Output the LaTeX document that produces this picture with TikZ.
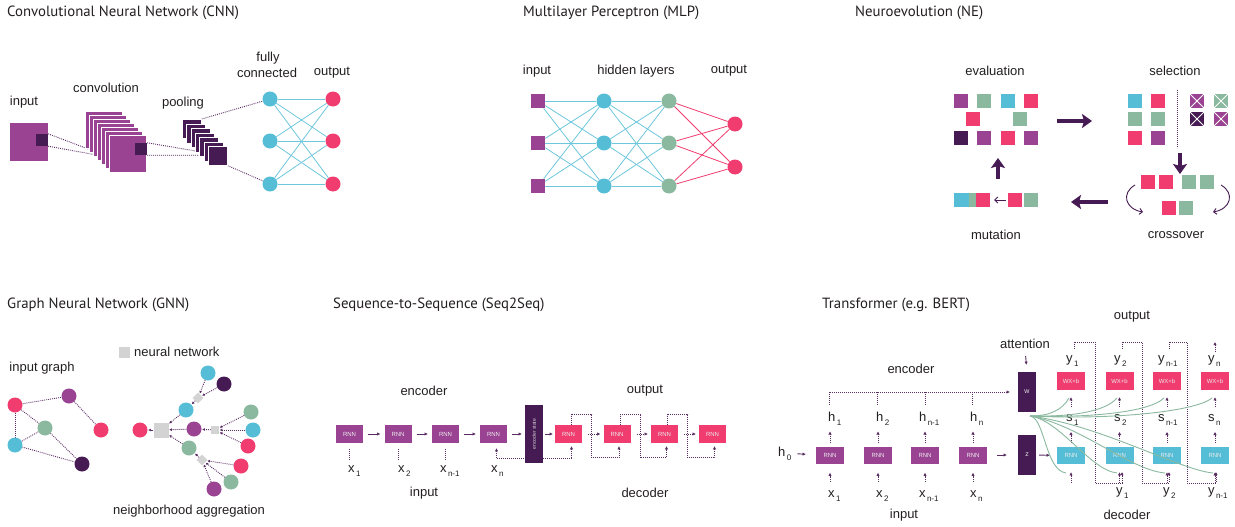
\documentclass[tikz,border=0pt]{standalone}
\usepackage{fontspec}
\setmainfont{Liberation Sans}
\newfontfamily\ttlfont{PT Sans}
\usetikzlibrary{arrows.meta,calc}
\definecolor{cpur}{HTML}{9B4393}
\definecolor{cdrk}{HTML}{461A53}
\definecolor{cpnk}{HTML}{F03C6E}
\definecolor{ccyn}{HTML}{55BDD6}
\definecolor{cgrn}{HTML}{8BB9A0}
\definecolor{cgry}{HTML}{D3D3D3}
\definecolor{cline}{HTML}{5A2D63}
\definecolor{ctxt}{HTML}{231F20}
\pgfdeclarelayer{bg}\pgfsetlayers{bg,main}
\newcommand{\sbs}[1]{\raisebox{-4pt}{\fontsize{8}{8}\selectfont\,#1}}
\begin{document}
\begin{tikzpicture}[x=1pt,y=-1pt,
  >={Latex[length=3.2pt,width=3.4pt]},
  ttl/.style={font=\ttlfont\fontsize{14.8}{16}\selectfont, anchor=west, text=ctxt, inner sep=0pt},
  lbl/.style={font=\fontsize{13}{15}\selectfont, text=ctxt, inner sep=0pt},
  sub/.style={lbl, anchor=base west},
  cnode/.style={circle, minimum size=15pt, inner sep=0pt},
  nsq/.style={rectangle, minimum size=14pt, inner sep=0pt},
  rbox/.style={rectangle, minimum width=28pt, minimum height=17pt, inner sep=0pt, font=\fontsize{6}{6}\selectfont, text=white!85!gray},
  dl/.style={draw=cline, line width=0.9pt, dash pattern=on 0.9pt off 1.1pt},
  sl/.style={draw=cline, line width=0.9pt},
  thk/.style={draw=cdrk, line width=3.6pt, -{Stealth[length=10pt,width=14pt,inset=2pt]}},
  barb/.style={draw=cdrk, line width=0.9pt, -{Straight Barb[length=3pt,width=6pt]}},
  cedge/.style={draw=ccyn!85, line width=0.8pt},
  pedge/.style={draw=cpnk, line width=0.8pt},
  gcurve/.style={draw=cgrn, line width=0.9pt},
  sarr/.style={dl, -{Latex[length=2.6pt,width=2.8pt]}},
  xsq/.style={nsq, path picture={\draw[white, line width=0.8pt] (path picture bounding box.north west) -- (path picture bounding box.south east) (path picture bounding box.south west) -- (path picture bounding box.north east);}},
]
\useasboundingbox (0,0) rectangle (1235,527);
\begin{pgfonlayer}{bg}
\fill[white] (0,0) rectangle (1235,527);
\end{pgfonlayer}

% ---------------- titles
\node[ttl] (t-cnn) at (7,13) {Convolutional Neural Network (CNN)};
\node[ttl] (t-mlp) at (523,13) {Multilayer Perceptron (MLP)};
\node[ttl] (t-ne) at (855,13) {Neuroevolution (NE)};
\node[ttl] (t-gnn) at (7,305) {Graph Neural Network (GNN)};
\node[ttl] (t-s2s) at (333,305) {Sequence-to-Sequence (Seq2Seq)};
\node[ttl] (t-tr) at (822,305) {Transformer (e.g. BERT)};

% ---------------- CNN
\node[lbl] (c-inlbl) at (24,102) {input};
\node[lbl] (c-cvlbl) at (106,88) {convolution};
\node[lbl] (c-pllbl) at (183,103) {pooling};
\node[lbl] (c-fclbl1) at (268,58) {fully};
\node[lbl] (c-fclbl2) at (267,73) {connected};
\node[lbl] (c-outlbl) at (332,73) {output};
\node[nsq, fill=cpur, minimum size=38pt] (c-in) at (29,142) {};
\node[nsq, fill=cdrk, minimum size=12pt] (c-ink) at (42,140) {};
\foreach \k in {0,...,6}
  \node[nsq, fill=cpur, draw=white, line width=0.7pt, minimum size=37pt, anchor=north west] (c-cv\k) at (85+4*\k,111+4*\k) {};
\node[nsq, fill=cdrk, minimum size=12pt] (c-cvk) at (141,149) {};
\foreach \k in {0,...,6}
  \node[nsq, fill=cdrk, draw=white, line width=0.7pt, minimum size=19pt, anchor=north west] (c-pl\k) at (182+4.33*\k,119+4.5*\k) {};
\foreach \i/\y in {1/99,2/141,3/184} {
  \node[cnode, fill=ccyn] (c-fc\i) at (270,\y) {};
  \node[cnode, fill=cpnk] (c-out\i) at (333,\y) {};
}
\coordinate (c-e1) at (100,153.5);
\coordinate (c-e2) at (105,156.5);
\coordinate (c-e3) at (205,152.6);
\coordinate (c-e4) at (208,155.3);
\begin{pgfonlayer}{bg}
\draw[dl] (c-ink.north east) -- (c-e1);
\draw[dl] (c-ink.south east) -- (c-e2);
\draw[dl] (c-cvk.north east) -- (c-e3);
\draw[dl] (c-cvk.south east) -- (c-e4);
\draw[dl] (c-pl0.north east) -- (c-fc1);
\draw[dl] (c-pl6.south east) -- (c-fc3);
\foreach \i in {1,2,3} \foreach \j in {1,2,3} \draw[cedge] (c-fc\i) -- (c-out\j);
\end{pgfonlayer}

% ---------------- MLP
\node[lbl] (m-inlbl) at (537,71) {input};
\node[lbl] (m-hlbl) at (636,71) {hidden layers};
\node[lbl] (m-outlbl) at (729,71) {output};
\foreach \i/\y in {1/101,2/143,3/186} {
  \node[nsq, fill=cpur] (m-i\i) at (538,\y) {};
  \node[cnode, fill=ccyn] (m-h\i) at (604,\y) {};
  \node[cnode, fill=cgrn] (m-g\i) at (669,\y) {};
}
\node[cnode, fill=cpnk] (m-o1) at (735,124) {};
\node[cnode, fill=cpnk] (m-o2) at (735,167) {};
\begin{pgfonlayer}{bg}
\foreach \i in {1,2,3} \foreach \j in {1,2,3} {
  \draw[cedge] (m-i\i) -- (m-h\j);
  \draw[cedge] (m-h\i) -- (m-g\j);
}
\foreach \i in {1,2,3} \foreach \j in {1,2} \draw[pedge] (m-g\i) -- (m-o\j);
\end{pgfonlayer}

% ---------------- Neuroevolution
\node[lbl] (n-evlbl) at (995,71) {evaluation};
\node[lbl] (n-sellbl) at (1175,71) {selection};
\node[lbl] (n-mutlbl) at (996,235) {mutation};
\node[lbl] (n-crlbl) at (1176,235) {crossover};
\foreach \n/\x/\y/\c in {e1/961/101/cpur, e2/983.5/101/cgrn, e3/1008/101/ccyn, e4/1031/101/cpnk,
  e5/973/119/cpnk, e6/1020/119/cgrn,
  e7/961/137.5/cdrk, e8/983.5/137.5/cpur, e9/1008/137.5/cpnk, e10/1031/137.5/cpur,
  s1/1135/101/ccyn, s2/1158/101/cpnk, s3/1135/119/cgrn, s4/1158/119/cgrn, s5/1135/137.5/cpnk, s6/1158/137.5/cpur,
  x1/1148/181.5/cpnk, x2/1166/181.5/cpnk, x3/1189/181.5/cgrn, x4/1207/181.5/cgrn,
  x5/1169/207.5/cpnk, x6/1186/207.5/cgrn,
  u1/1015/200/cpnk, u2/1031/200/cgrn}
  \node[nsq, fill=\c] (ne-\n) at (\x,\y) {};
\foreach \n/\x/\y/\c in {k1/1197/101/cpur, k2/1221/101/cgrn, k3/1197/119/cdrk, k4/1221/119/cpur}
  \node[xsq, fill=\c] (ne-\n) at (\x,\y) {};
\node[nsq, fill=ccyn, minimum width=15pt] (ne-m1) at (961.5,200) {};
\node[nsq, fill=cgrn, minimum width=7pt] (ne-m2) at (972.5,200) {};
\node[nsq, fill=cpnk, minimum width=14pt] (ne-m3) at (983,200) {};
\coordinate (ne-a1s) at (1057,121); \coordinate (ne-a1e) at (1092,121);
\coordinate (ne-a2s) at (1180,153); \coordinate (ne-a2e) at (1180,174);
\coordinate (ne-a3s) at (1108,202); \coordinate (ne-a3e) at (1071,202);
\coordinate (ne-a4s) at (998,179); \coordinate (ne-a4e) at (998,158);
\coordinate (ne-v1) at (1177,90); \coordinate (ne-v2) at (1177,148);
\draw[thk] (ne-a1s) -- (ne-a1e);
\draw[thk] (ne-a2s) -- (ne-a2e);
\draw[thk] (ne-a3s) -- (ne-a3e);
\draw[thk] (ne-a4s) -- (ne-a4e);
\draw[dl] (ne-v1) -- (ne-v2);
\draw[barb, shorten <=2pt, shorten >=4pt] (ne-u1.west) -- (ne-m3.east);
\coordinate (ne-l1) at (1135,185); \coordinate (ne-l2) at (1143,212);
\coordinate (ne-r1) at (1221,185); \coordinate (ne-r2) at (1213,212);
\draw[barb] (ne-l1) .. controls (1121,193) and (1125,209) .. (ne-l2);
\draw[barb] (ne-r1) .. controls (1235,193) and (1231,209) .. (ne-r2);

% ---------------- GNN
\node[lbl] (g-inlbl) at (42,368) {input graph};
\node[nsq, fill=cgry, minimum size=11pt] (g-leg) at (124,352) {};
\node[lbl, anchor=west] (g-leglbl) at (134,352) {neural network};
\node[lbl] (g-agglbl) at (189,511) {neighborhood aggregation};
\foreach \n/\x/\y/\c in {a/15/405/cpnk, b/69/396/cpur, c/45/428/cgrn, d/101/430/cpnk, e/15/445/ccyn, f/82/464/cdrk,
  p/140/430/cpnk, pu/194/429/cpur, cy/186/410/ccyn, gr/189/448/cgrn,
  g2/251/412/cgrn, c2/253/430/ccyn, p2/248/446/cpnk,
  c3/208/373/ccyn, dk/224/384/cdrk,
  p3/241/466/cpnk, g3/231/482/cgrn, pu2/214/489/cpur}
  \node[cnode, fill=\c] (g-\n) at (\x,\y) {};
\node[nsq, fill=cgry, minimum size=15pt] (g-sq) at (161,430) {};
\node[nsq, fill=cgry, minimum size=8pt] (g-ss) at (215,430) {};
\node[nsq, fill=cgry, minimum size=7.5pt, rotate=45] (g-d1) at (198,398) {};
\node[nsq, fill=cgry, minimum size=7.5pt, rotate=45] (g-d2) at (202,460) {};
\begin{pgfonlayer}{bg}
\foreach \u/\v in {a/b, a/c, a/e, b/d, c/e, c/f, e/f} \draw[dl] (g-\u) -- (g-\v);
\end{pgfonlayer}
\foreach \u/\v in {sq/p, cy/sq, pu/sq, gr/sq, ss/pu, g2/ss, c2/ss, p2/ss, d1/cy, c3/d1, dk/d1, d2/gr, p3/d2, g3/d2, pu2/d2}
  \draw[sarr, shorten >=0.5pt] (g-\u) -- (g-\v);

% ---------------- Seq2Seq
\node[lbl] (q-enclbl) at (424,391) {encoder};
\node[lbl] (q-outlbl) at (645,391) {output};
\node[lbl] (q-inlbl) at (424,493) {input};
\node[lbl] (q-declbl) at (645,493) {decoder};
\foreach \i/\x in {1/349.5,2/398,3/445.5,4/493.5}
  \node[rbox, fill=cpur, minimum width=27pt, minimum height=18pt] (q-r\i) at (\x,434) {RNN};
\foreach \i/\x in {1/568.5,2/617,3/664.5,4/712.5}
  \node[rbox, fill=cpnk, minimum width=27pt, minimum height=18pt] (q-p\i) at (\x,434) {RNN};
\node[fill=cdrk, minimum width=18pt, minimum height=58pt, inner sep=0pt] (q-es) at (534,434)
  {\rotatebox{90}{\fontsize{5}{5}\selectfont\color{white!70!gray}encoder state}};
\node[sub] (q-x1) at (348,472) {x\sbs{1}};
\node[sub] (q-x2) at (398,472) {x\sbs{2}};
\node[sub] (q-x3) at (440,472) {x\sbs{n-1}};
\node[sub] (q-x4) at (491,472) {x\sbs{n}};
\foreach \i/\j in {1/2,2/3,3/4} {
  \draw[sl,->,shorten <=5pt,shorten >=4pt] (q-r\i.east) -- (q-r\j.west);
  \draw[dl,->,shorten <=6pt,shorten >=3pt] (q-p\i.east) -- (q-p\j.west);
  \draw[dl,->,shorten >=3pt] ([xshift=3pt]q-p\i.north) -- ++(0,-10) -- ++(20,0) -- ++(0,43) -| ([xshift=2pt]q-p\j.south);
}
\draw[sl,->,shorten <=5pt,shorten >=3pt] (q-r4.east) -- (q-es.west);
\draw[sl,->,shorten <=2pt,shorten >=2pt] (q-es.east) -- (q-p1.west);
\foreach \i in {1,2,3} \draw[dl] ([shift={(0,6)}]q-r\i.south) -- ++(0,11);
\begin{pgfonlayer}{bg}
\draw[dl,<->,shorten <=5pt,shorten >=3pt] ([xshift=3pt]q-r4.south) -- ++(0,15) -| ([xshift=3pt]q-p1.south);
\end{pgfonlayer}

% ---------------- Transformer
\node[lbl] (r-enclbl) at (911,369) {encoder};
\node[lbl] (r-inlbl) at (904,515) {input};
\node[lbl] (r-attlbl) at (1025,344) {attention};
\node[lbl] (r-outlbl) at (1132,317) {output};
\node[lbl] (r-declbl) at (1127,515) {decoder};
\foreach \i/\x in {1/830,2/878,3/925,4/973}
  \node[rbox, fill=cpur] (r-t\i) at (\x,455) {RNN};
\node[sub] (r-h0) at (778,456) {h\sbs{0}};
\foreach \i/\x/\s in {1/828/1,2/876/2,3/919/n-1,4/970/n} {
  \node[sub] (r-h\i) at (\x,421) {h\sbs{\s}};
  \node[sub] (r-x\i) at (\x,497) {x\sbs{\s}};
}
\node[fill=cdrk, minimum width=18pt, minimum height=40pt, inner sep=0pt, font=\fontsize{7}{7}\selectfont, text=white!80!gray] (r-w) at (1027,392) {w};
\node[fill=cdrk, minimum width=18pt, minimum height=40pt, inner sep=0pt, font=\fontsize{7}{7}\selectfont, text=white!80!gray] (r-z) at (1027,455) {z};
\foreach \i/\x in {1/1071,2/1119.5,3/1167,4/1215} {
  \node[rbox, fill=cpnk, minimum height=18pt] (r-o\i) at (\x,381) {WX+b};
  \node[rbox, fill=ccyn] (r-c\i) at (\x,455.5) {RNN};
  \draw[dl,->] ([shift={(0,-4)}]r-c\i.north) -- ++(0,-11);
  \draw[dl,->] ([shift={(0,17)}]r-o\i.south) -- ++(0,-10);
  \draw[dl,->] ([shift={(0,19)}]r-c\i.south) -- ++(0,-11);
}
\foreach \i/\x/\s in {1/1066/1,2/1114/2,3/1158/n-1,4/1208/n} {
  \node[sub] (r-y\i) at (\x,362) {y\sbs{\s}};
  \node[sub] (r-s\i) at (\x,421) {s\sbs{\s}};
}
\foreach \i/\x/\s in {1/1116/1,2/1163/2,3/1208/n-1}
  \node[sub] (r-b\i) at (\x,494) {y\sbs{\s}};
% encoder arrows
\draw[sl,->,shorten <=6pt,shorten >=10pt] (r-h0.east) -- (r-t1.west);
\foreach \i/\x in {1/830,2/878,3/925,4/973} {
  \draw[dl,->] ([shift={(0,-3)}]r-t\i.north) -- ++(0,-12);
  \draw[dl,->] ([shift={(0,18)}]r-t\i.south) -- ++(0,-9);
}
\foreach \x in {877,925,972} \draw[dl] (\x,405) -- (\x,392);
\draw[dl,->,shorten >=8pt] (829,405) -- (829,392) -- (r-w.west);
\draw[sl,->,shorten <=10pt,shorten >=11pt] (r-t4.east) -- (r-z.west);
\draw[sl,->,shorten <=3pt,shorten >=7pt] (r-z.east) -- (r-c1.west);
\draw[sl,->,shorten <=7pt,shorten >=7pt] (r-attlbl.south) -- (r-w.north);
% feedback loops
\draw[dl,->] (1074,349) -- (1074,342) -- (1095,342) -- (1095,483) -| (1122,472);
\draw[dl,->] (1122,349) -- (1122,342) -- (1142,342) -- (1142,483) -| (1169,472);
\draw[dl,->] (1169,349) -- (1169,342) -- (1187,342) -- (1187,483) -| (1216,472);
\draw[dl,->] (1215,352) -- (1215,342);
% attention curves
\coordinate (r-g0) at (1030,416);
\draw[gcurve] (r-g0) .. controls (1050,416) and (1062,410) .. (1069,398);
\draw[gcurve] (r-g0) .. controls (1070,417) and (1105,412) .. (1117,398);
\draw[gcurve] (r-g0) .. controls (1090,418) and (1150,412) .. (1164,398);
\draw[gcurve] (r-g0) .. controls (1110,420) and (1195,412) .. (1212,398);
\draw[gcurve] (r-g0) .. controls (1045,418) and (1045,470) .. (1066,473);
\draw[gcurve] (r-g0) .. controls (1060,420) and (1090,470) .. (1117,473);
\draw[gcurve] (r-g0) .. controls (1080,425) and (1130,470) .. (1165,473);
\draw[gcurve] (r-g0) .. controls (1100,425) and (1180,470) .. (1213,473);
\end{tikzpicture}
\end{document}
